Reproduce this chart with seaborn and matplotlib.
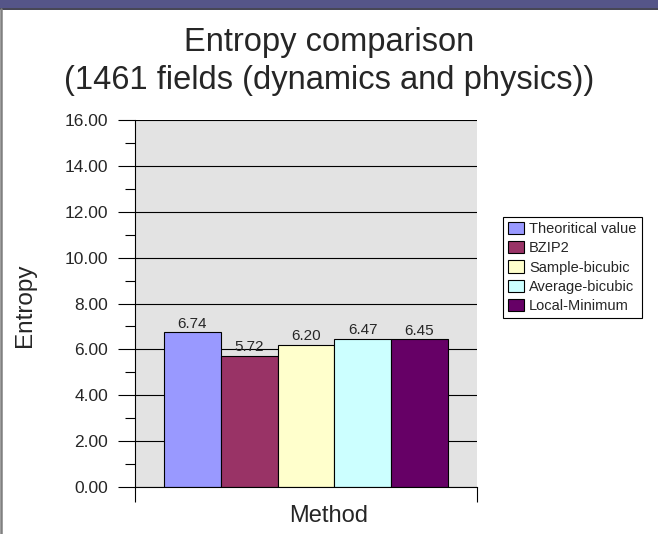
import matplotlib
matplotlib.use("Agg")
import matplotlib.pyplot as plt
import seaborn as sns
import pandas as pd
from matplotlib.patches import Rectangle
from matplotlib.lines import Line2D

methods = ["Theoritical value", "BZIP2", "Sample-bicubic", "Average-bicubic", "Local-Minimum"]
entropy = [6.74, 5.72, 6.20, 6.47, 6.45]
colors = ["#9999FF", "#993366", "#FFFFCC", "#CCFFFF", "#660066"]
yticks = [0, 2, 4, 6, 8, 10, 12, 14, 16]
title_lines = ["Entropy comparison", "(1461 fields (dynamics and physics))"]

df = pd.DataFrame({"Group": [""] * len(methods), "Method": methods, "Entropy": entropy})

sns.set_style("white")
plt.rcParams["font.family"] = ["Liberation Sans", "DejaVu Sans"]

W, H = 658, 534
fig = plt.figure(figsize=(W / 100, H / 100), dpi=100)
fig.patch.set_facecolor("white")

# top band and left border (frame decoration)
fig.add_artist(Rectangle((0, 1 - 8 / H), 1, 8 / H, transform=fig.transFigure,
                         facecolor="#555588", edgecolor="none"))
fig.add_artist(Line2D([0, 1], [1 - 8.5 / H, 1 - 8.5 / H], transform=fig.transFigure,
                      color="#222233", lw=1.2))
fig.add_artist(Line2D([1.2 / W, 1.2 / W], [0, 1 - 9 / H], transform=fig.transFigure,
                      color="#808080", lw=1.8))

ax = fig.add_axes([135 / W, 1 - 487 / H, (477 - 135) / W, (487 - 120) / H])
ax.set_facecolor("#E3E3E3")

sns.barplot(data=df, x="Group", y="Entropy", hue="Method", palette=colors,
            saturation=1, width=0.83, edgecolor="black", linewidth=0.8, ax=ax, legend=True)

for cont in ax.containers:
    ax.bar_label(cont, fmt="%.2f", fontsize=11, padding=1)

ax.set_ylim(0, 16)
ax.set_xlim(-0.5, 0.5)
ax.set_yticks(yticks)
ax.set_yticklabels([f"{v:.2f}" for v in yticks], fontsize=12.5)
ax.set_yticks([1, 3, 5, 7, 9, 11, 13, 15], minor=True)
ax.tick_params(axis="y", which="major", left=True, length=12.5, width=0.8, color="black",
               direction="out", pad=7)
ax.tick_params(axis="y", which="minor", left=True, length=7, width=0.8, color="black",
               direction="out")
ax.set_xticks([-0.5, 0.5])
ax.set_xticklabels(["", ""])
ax.tick_params(axis="x", which="major", bottom=True, length=11, width=0.8, color="black",
               direction="out")
ax.yaxis.grid(True, color="black", lw=0.8)
ax.set_axisbelow(True)
for s in ["top", "right"]:
    ax.spines[s].set_visible(False)
for s in ["left", "bottom"]:
    ax.spines[s].set_visible(True)
    ax.spines[s].set_color("black")
    ax.spines[s].set_linewidth(0.8)

ax.set_xlabel("Method", fontsize=17)
ax.set_ylabel("Entropy", fontsize=17.5)
ax.xaxis.set_label_coords(0.5, 1 - 505 / H, transform=fig.transFigure)
ax.yaxis.set_label_coords(36 / W, 1 - 305 / H, transform=fig.transFigure)

fig.text(0.5, 1 - 51 / H, title_lines[0], ha="center", va="baseline", fontsize=23.5)
fig.text(0.5, 1 - 89 / H, title_lines[1], ha="center", va="baseline", fontsize=23.5)

handles, labels = ax.get_legend_handles_labels()
ax.legend(handles, labels, loc="upper left", bbox_to_anchor=(503 / W, 1 - 217 / H),
          bbox_transform=fig.transFigure, frameon=True, fancybox=False, fontsize=10.5,
          handlelength=1.1, handleheight=0.9, handletextpad=0.35, labelspacing=0.35,
          borderpad=0.35, borderaxespad=0, edgecolor="black", framealpha=1)
ax.get_legend().get_frame().set_linewidth(0.8)

fig.savefig("out.png", dpi=100)
